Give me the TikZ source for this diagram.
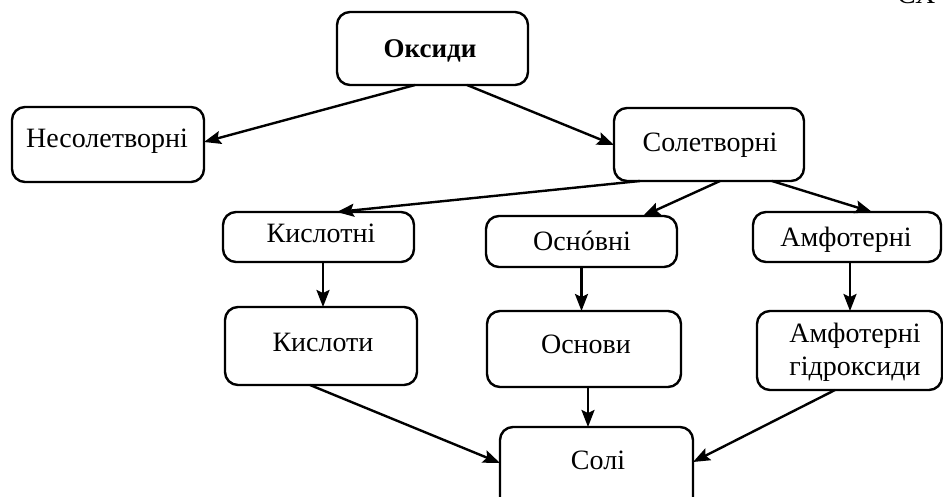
\documentclass[tikz,border=0pt]{standalone}
\usepackage{fontspec}
\setmainfont{Liberation Serif}
\usetikzlibrary{arrows.meta,calc}
\begin{document}
\begin{tikzpicture}[x=1pt,y=-1pt,
  box/.style={draw,line width=2.4pt,rounded corners=13pt,inner sep=0pt,outer sep=0pt},
  txt/.style={inner sep=0pt,text height=18.5pt,text depth=0pt,font=\fontsize{28}{33}\selectfont},
  arr/.style={line width=2.4pt,-{Stealth[length=17pt,width=13pt,inset=3pt]}}]
\useasboundingbox (0,0) rectangle (943,496);
\clip (0,0) rectangle (943,496);
% boxes
\node[box,minimum width=191pt,minimum height=73pt] (oks) at (432.5,48.5) {};
\node[box,minimum width=192pt,minimum height=75pt] (nes) at (108,144.5) {};
\node[box,minimum width=190pt,minimum height=73pt] (sol) at (709,144.5) {};
\node[box,minimum width=191pt,minimum height=50pt] (kis) at (318.5,237) {};
\node[box,minimum width=191pt,minimum height=51pt] (osn) at (581.5,241.5) {};
\node[box,minimum width=188pt,minimum height=50pt] (amf) at (847,237) {};
\node[box,minimum width=192pt,minimum height=78pt] (kisl) at (321,346) {};
\node[box,minimum width=194pt,minimum height=76pt] (osnv) at (584,349) {};
\node[box,minimum width=193pt,minimum height=100pt] (soli) at (596.5,477) {};
\node[box,minimum width=185pt,minimum height=79pt] (ahg) at (849.5,350.5) {};
% texts
\node[txt,font=\fontsize{27}{32}\selectfont\bfseries] (toks) at (430,48) {Оксиди};
\node[txt] (tnes) at (107,138) {Несолетворні};
\node[txt] (tsol) at (710,142) {Солетворні};
\node[txt] (tkis) at (321,233) {Кислотні};
\node[txt] (tosn) at (582,241) {Оснóвні};
\node[txt] (tamf) at (846,237) {Амфотерні};
\node[txt] (tkisl) at (323,342) {Кислоти};
\node[txt] (tosnv) at (586,344) {Основи};
\node[txt] (tsoli) at (598,460) {Солі};
\node[txt] (tah1) at (855,333) {Амфотерні};
\node[txt] (tah2) at (855,366) {гідроксиди};
\node[anchor=base west,inner sep=0pt,font=\fontsize{28}{33}\selectfont] (top) at (897,3) {СХ};
% connectors
\draw[arr] ($(oks.south)+(-17.5,0)$) -- ($(nes.east)+(0,-2.5)$);
\draw[arr] ($(oks.south)+(34.5,0)$) -- ($(sol.west)+(0,0.5)$);
\draw[arr] ($(sol.south)+(-69,0)$) -- ($(kis.north)+(18.5,0)$);
\draw[arr] ($(sol.south)+(11,0)$) -- ($(osn.north)+(61.5,0)$);
\draw[arr] ($(sol.south)+(63,0)$) -- ($(amf.north)+(25,0)$);
\draw[arr] ($(kis.south)+(4.5,0)$) coordinate (k1) -- (k1 |- kisl.north);
\draw[arr] (osn.south) -- (osn.south |- osnv.north);
\draw[arr] ($(amf.south)+(3,0)$) coordinate (a1) -- (a1 |- ahg.north);
\draw[arr] ($(kisl.south)+(-11,0)$) -- ($(soli.north west)+(0,36)$);
\draw[arr] ($(osnv.south)+(4,0)$) coordinate (o1) -- (o1 |- soli.north);
\draw[arr] ($(ahg.south)+(-14.5,0)$) -- ($(soli.north east)+(0,35)$);
\end{tikzpicture}
\end{document}
